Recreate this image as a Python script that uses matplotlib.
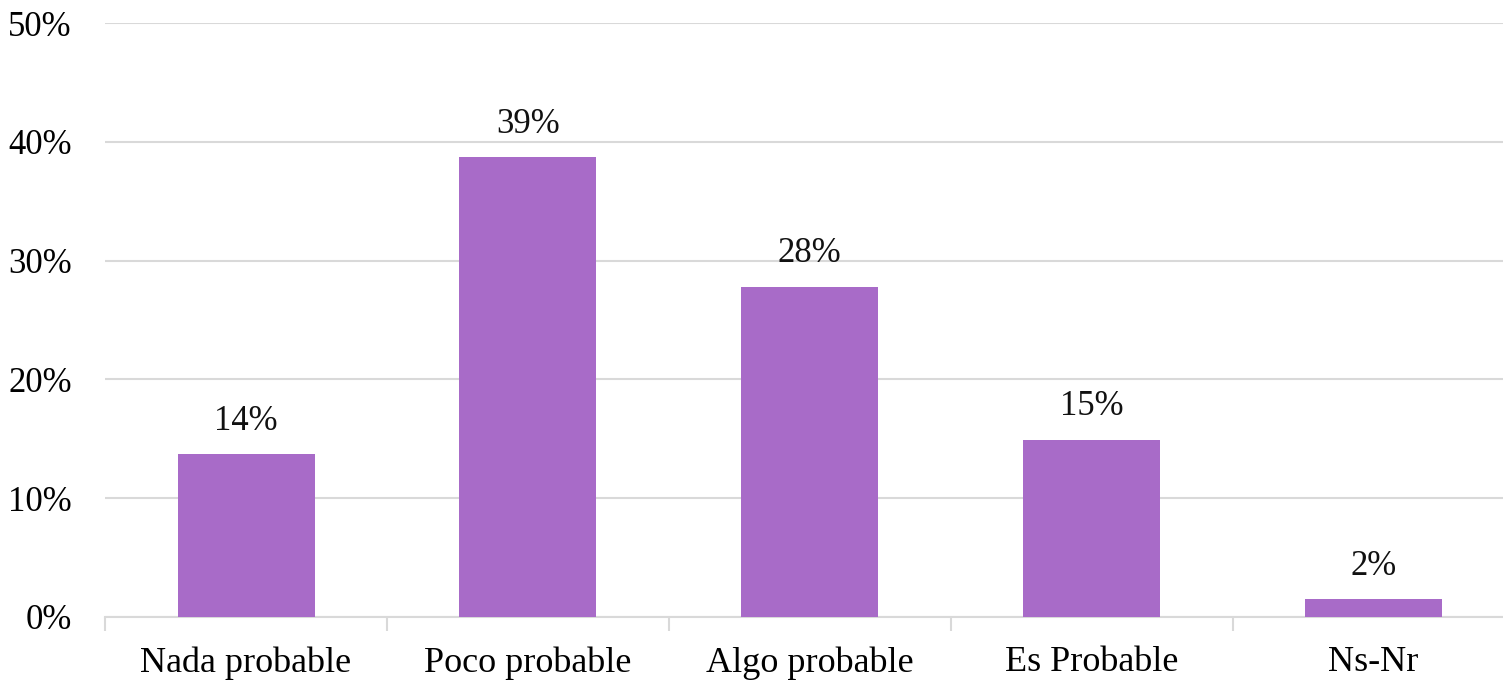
import numpy as np
import matplotlib.pyplot as plt
from matplotlib.ticker import FixedLocator, PercentFormatter

categories = ['Nada probable', 'Poco probable', 'Algo probable', 'Es Probable', 'Ns-Nr']
values = [13.7, 38.7, 27.8, 14.9, 1.5]
labels = ['14%', '39%', '28%', '15%', '2%']
yticks = [0, 10, 20, 30, 40, 50]

plt.rcParams['font.family'] = ['Liberation Serif', 'DejaVu Serif']

fig = plt.figure(figsize=(15.03, 6.81), dpi=100)
ax = fig.add_axes([0.0699, 0.094, 0.9378, 0.8722])

x = np.arange(len(categories))
bars = ax.bar(x, values, width=0.486, color='#A86BC8', zorder=3)
for b, lab in zip(bars, labels):
    ax.text(b.get_x() + b.get_width() / 2, b.get_height() + 1.4, lab,
            ha='center', va='bottom', fontsize=25, color='#111111')

ax.set_xlim(-0.5, len(categories) - 0.5)
ax.set_ylim(0, 50)
ax.set_yticks(yticks)
ax.yaxis.set_major_formatter(PercentFormatter(decimals=0))
ax.yaxis.grid(True, color='#D9D9D9', lw=1.5, zorder=0)

ax.set_xticks(x)
ax.set_xticklabels(categories)
ax.xaxis.set_minor_locator(FixedLocator(np.arange(len(categories) + 1) - 0.5))
ax.tick_params(axis='x', which='major', length=0, pad=21, labelsize=26)
ax.tick_params(axis='x', which='minor', length=10, width=1.5, color='#D9D9D9')
ax.tick_params(axis='y', length=0, pad=24, labelsize=25)

for s in ['top', 'right', 'left']:
    ax.spines[s].set_visible(False)
ax.spines['bottom'].set_color('#D9D9D9')
ax.spines['bottom'].set_linewidth(1.5)

fig.savefig('out.png', dpi=100)
